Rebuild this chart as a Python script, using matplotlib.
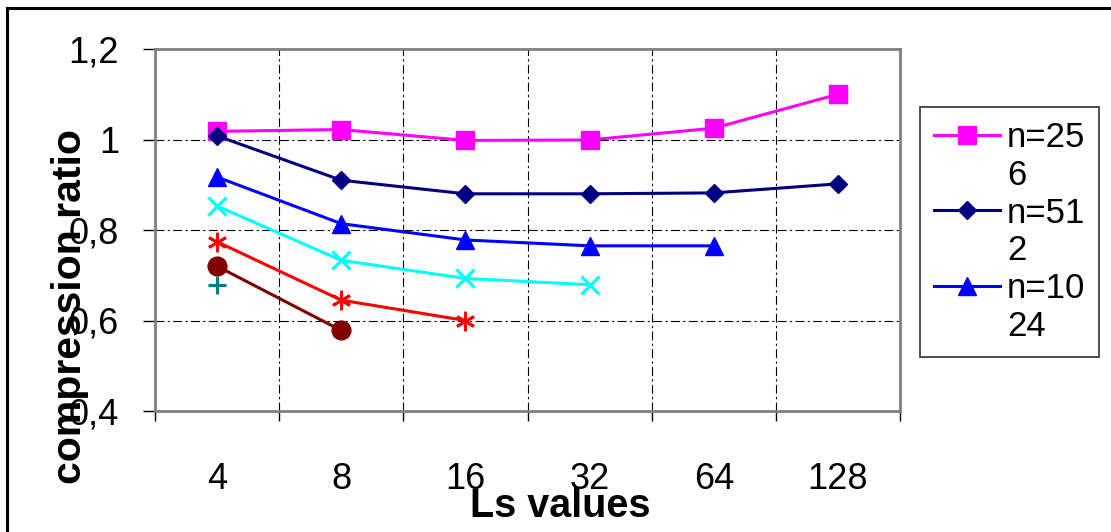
import matplotlib.pyplot as plt
from matplotlib.lines import Line2D
from matplotlib.patches import Rectangle
from matplotlib.ticker import FixedLocator, FuncFormatter

plt.rcParams['font.family'] = ['Liberation Sans', 'DejaVu Sans']

# data
ls_values = ['4', '8', '16', '32', '64', '128']
n256 = [1.018, 1.022, 0.998, 0.999, 1.025, 1.100]
n512 = [1.008, 0.910, 0.880, 0.880, 0.882, 0.902]
n1024 = [0.917, 0.814, 0.778, 0.765, 0.765]
n2048 = [0.853, 0.733, 0.693, 0.679]
n4096 = [0.774, 0.645, 0.600]
n8192 = [0.720, 0.578]
n16384 = [0.678]

series = [
    ('n=256', n256, '#FF00FF', 's', 13.5, 0),
    ('n=512', n512, '#000080', 'D', 9.5, 0),
    ('n=1024', n1024, '#0000FF', '^', 13.5, 0),
    ('n=2048', n2048, '#00FFFF', 'x', 13, 2.3),
    ('n=4096', n4096, '#FF0000', (6, 2, 0), 14, 2.0),
    ('n=8192', n8192, '#800000', 'o', 13.5, 0),
    ('n=16384', n16384, '#008080', '+', 13, 2.3),
]

fig = plt.figure(figsize=(11.11, 5.32), dpi=100)
ax = fig.add_axes([155 / 1111, 1 - 411 / 532, 745 / 1111, 362 / 532])

handles = []
for name, vals, col, mk, ms, mew in series:
    xs = list(range(len(vals)))
    kw = dict(color=col, marker=mk, markersize=ms, linewidth=2.2,
              markerfacecolor=col, markeredgecolor=col)
    if mew:
        kw['markeredgewidth'] = mew
    h, = ax.plot(xs, vals, **kw)
    handles.append(h)

ax.set_xlim(-0.5, 5.5)
ax.set_ylim(0.4, 1.2)

ax.set_xticks(range(len(ls_values)))
ax.set_xticklabels(ls_values)
ax.xaxis.set_minor_locator(FixedLocator([i - 0.5 for i in range(7)]))
ax.tick_params(axis='x', which='major', length=0, pad=37, labelsize=26)
ax.tick_params(axis='x', which='minor', length=7, width=1, direction='out')

ax.set_yticks([0.4, 0.6, 0.8, 1.0, 1.2])
ax.yaxis.set_major_formatter(FuncFormatter(
    lambda v, p: ('%g' % round(v, 1)).replace('.', ',')))
ax.tick_params(axis='y', length=9, width=1, pad=17, labelsize=26,
               direction='out')

dashdot = (0, (8, 3, 2, 3))
ax.grid(True, axis='x', which='minor', color='black', linewidth=0.8,
        linestyle=dashdot)
ax.grid(True, axis='y', which='major', color='black', linewidth=0.8,
        linestyle=dashdot)
ax.grid(False, axis='x', which='major')
ax.set_axisbelow(True)

for s in ax.spines.values():
    s.set_color('#808080')
    s.set_linewidth(2)

fig.text(70 / 1111, 1 - 307 / 532, 'compression ratio', rotation=90,
         ha='center', va='center', fontsize=29.5, fontweight='bold')
fig.text(560 / 1111, 1 - 517 / 532, 'Ls values', ha='center',
         va='baseline', fontsize=28.5, fontweight='bold')

# legend: only the first three entries fit, labels wrap like the original
blank = Line2D([], [], linestyle='none')
leg_handles = [handles[0], blank, handles[1], blank, handles[2], blank]
leg_labels = ['n=25', '6', 'n=51', '2', 'n=10', '24']
leg = fig.legend(leg_handles, leg_labels, loc='upper left',
                 bbox_to_anchor=(920 / 1111, 1 - 107 / 532),
                 bbox_transform=fig.transFigure, borderaxespad=0,
                 fontsize=25, frameon=True, fancybox=False,
                 edgecolor='#404040', framealpha=1, borderpad=0.4,
                 handlelength=1.9, handletextpad=0.2, labelspacing=0.14)
leg.get_frame().set_linewidth(1.3)

fig.patches.append(Rectangle((7 / 1111, -0.1), 1.2, 1 - 8 / 532 + 0.1,
                             transform=fig.transFigure, fill=False,
                             edgecolor='black', linewidth=2.2))

fig.savefig('out.png', dpi=100)
